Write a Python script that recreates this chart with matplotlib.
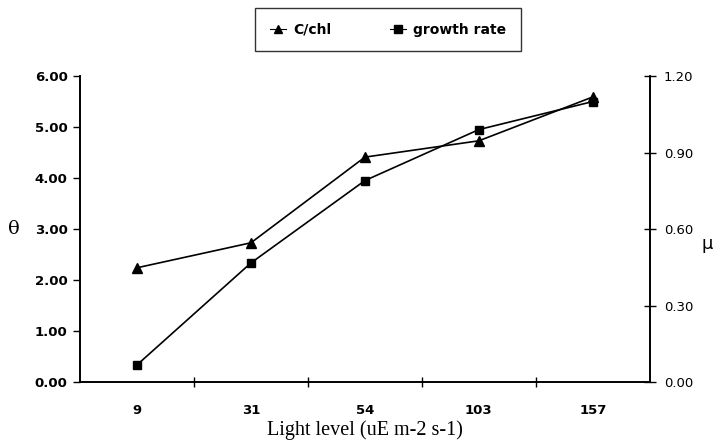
import matplotlib.pyplot as plt
import numpy as np

# data
light = ["9", "31", "54", "103", "157"]
c_chl = [2.24, 2.73, 4.41, 4.73, 5.59]
growth = [0.067, 0.467, 0.79, 0.99, 1.10]

plt.rcParams['font.family'] = ['DejaVu Sans']

fig = plt.figure(figsize=(7.23, 4.45), dpi=100)
ax = fig.add_axes([0.1107, 0.1416, 0.788, 0.6875])
ax2 = ax.twinx()

x = np.arange(len(light))
l1, = ax.plot(x, c_chl, color='black', lw=1.2, marker='^', ms=7, label='C/chl')
l2, = ax2.plot(x, growth, color='black', lw=1.2, marker='s', ms=6, label='growth rate')

ax.set_xlim(-0.5, len(light) - 0.5)
ax.set_ylim(0, 6)
ax2.set_ylim(0, 1.2)

# ticks between categories, labels at centres
ax.set_xticks(np.arange(len(light) - 1) + 0.5)
ax.set_xticklabels([])
ax.set_xticks(x, minor=True)
ax.set_xticklabels(light, minor=True, fontsize=9.5, fontweight='bold')
ax.tick_params(axis='x', which='major', direction='inout', length=7, width=1)
ax.tick_params(axis='x', which='minor', length=0, pad=16)

ax.set_yticks(np.arange(0, 6.01, 1))
ax.set_yticklabels(["%.2f" % v for v in np.arange(0, 6.01, 1)], fontsize=9.5, fontweight='bold')
ax.tick_params(axis='y', direction='out', length=5, width=1, pad=4)
ax2.set_yticks(np.arange(0, 1.21, 0.3))
ax2.set_yticklabels(["%.2f" % v for v in np.arange(0, 1.21, 0.3)], fontsize=9.5)
ax2.tick_params(axis='y', direction='inout', length=8, width=1, pad=6)

for a in (ax, ax2):
    a.spines['top'].set_visible(False)
    for s in ('left', 'right', 'bottom'):
        a.spines[s].set_linewidth(1.2)

ax.set_ylabel('θ', rotation=0, fontsize=14, family='DejaVu Serif', va='center', ha='center')
ax.yaxis.set_label_coords(-66 / 570, 0.5)
ax2.set_ylabel('μ', rotation=0, fontsize=13, va='center', ha='center')
ax2.yaxis.set_label_coords(1 + 57 / 570, 0.45)
ax.set_xlabel('Light level (uE m-2 s-1)', family='Liberation Serif', fontsize=14.5, labelpad=2)

leg = fig.legend([l1, l2], ['C/chl', 'growth rate'], loc='upper left',
                 bbox_to_anchor=(255 / 723, 1 - 8 / 445), ncol=2, frameon=True,
                 fancybox=False, edgecolor='black', handlelength=1.2,
                 columnspacing=4.2, prop={'size': 10, 'weight': 'bold'},
                 borderpad=1.05, handletextpad=0.5, borderaxespad=0)
leg.get_frame().set_linewidth(1)
for h in leg.legend_handles:
    h.set_markersize(6)
    h.set_linewidth(0.8)

fig.savefig('out.png', dpi=100)
